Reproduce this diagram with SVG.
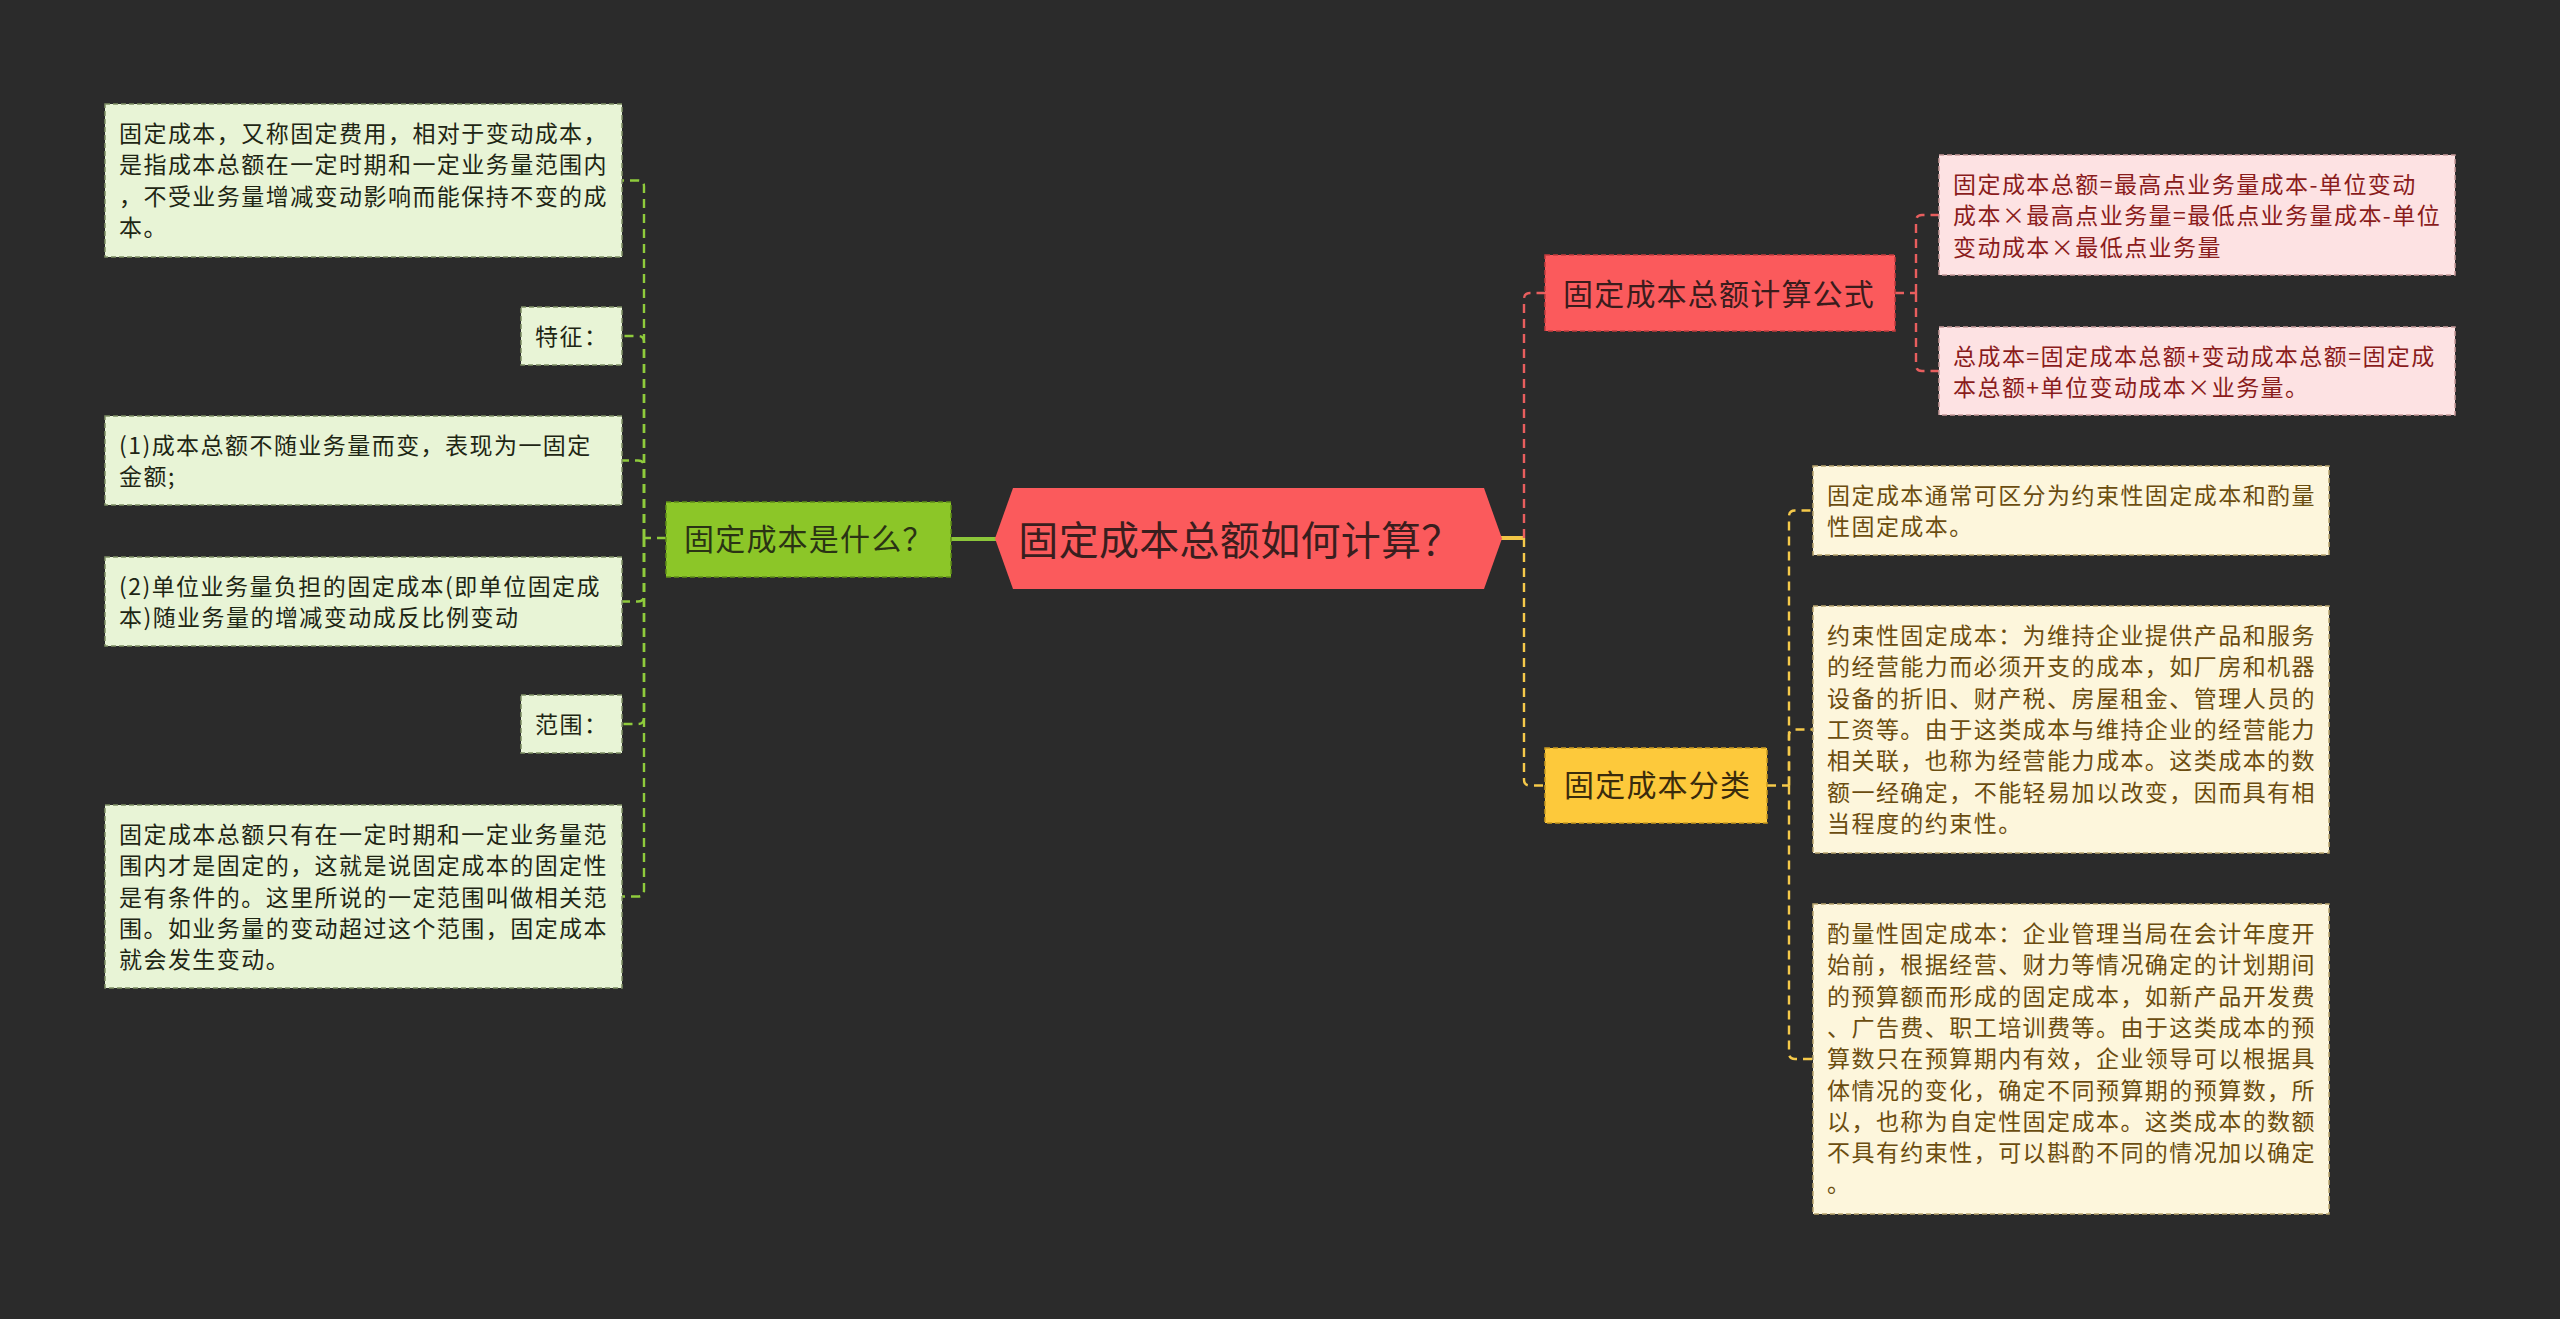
<svg xmlns="http://www.w3.org/2000/svg" width="2560" height="1319" viewBox="0 0 2560 1319">
<style>
text{font-family:"Noto Sans CJK SC","Noto Sans",sans-serif;}
.leaf{font-size:23px;letter-spacing:1.45px;}
.mid{font-size:30px;letter-spacing:1.2px;}
.root{font-size:40px;letter-spacing:0.3px;}
.gbox{fill:#e8f4d6;stroke:#7d8e64;stroke-width:1.5;stroke-dasharray:5 3;}
.gt{fill:#1e2614;}
.rbox{fill:#fde2e3;stroke:#c79a9a;stroke-width:1.5;stroke-dasharray:5 3;}
.rt{fill:#8a1c1c;}
.ybox{fill:#fdf6dc;stroke:#b9a56e;stroke-width:1.5;stroke-dasharray:5 3;}
.yt{fill:#6b4d10;}
.cg{fill:none;stroke:#8fcb3c;stroke-width:2.4;stroke-dasharray:9 6;}
.cr{fill:none;stroke:#e85e5e;stroke-width:2.4;stroke-dasharray:9 6;}
.cy{fill:none;stroke:#f5c94a;stroke-width:2.4;stroke-dasharray:9 6;}
</style>
<rect width="2560" height="1319" fill="#2b2b2b"/>

<g id="connectors">
  <path d="M951,539 H996" fill="none" stroke="#8cc63a" stroke-width="4"/>
  <path d="M1501,538 H1524" fill="none" stroke="#f2c646" stroke-width="4"/>
  <path class="cg" d="M666,538 H644"/>
  <path class="cg" d="M644,538 V186.5 Q644,180.5 638,180.5 H622"/>
  <path class="cg" d="M644,538 V342 Q644,336 638,336 H622"/>
  <path class="cg" d="M644,538 V466.5 Q644,460.5 638,460.5 H622"/>
  <path class="cg" d="M644,538 V595.5 Q644,601.5 638,601.5 H622"/>
  <path class="cg" d="M644,538 V718 Q644,724 638,724 H622"/>
  <path class="cg" d="M644,538 V890.5 Q644,896.5 638,896.5 H622"/>
  <path class="cr" d="M1524,538 V299 Q1524,293 1530,293 H1545"/>
  <path class="cy" d="M1524,538 V779.5 Q1524,785.5 1530,785.5 H1545"/>
  <path class="cr" d="M1895,293 H1916"/>
  <path class="cr" d="M1916,293 V221 Q1916,215 1922,215 H1939"/>
  <path class="cr" d="M1916,293 V365 Q1916,371 1922,371 H1939"/>
  <path class="cy" d="M1767,785.5 H1789"/>
  <path class="cy" d="M1789,785.5 V516.5 Q1789,510.5 1795,510.5 H1813"/>
  <path class="cy" d="M1789,785.5 V735.5 Q1789,729.5 1795,729.5 H1813"/>
  <path class="cy" d="M1789,785.5 V1053 Q1789,1059 1795,1059 H1813"/>
</g>

<g id="root">
  <polygon points="995,538.5 1013,488 1484,488 1502,538.5 1484,589 1013,589" fill="#fb5a5c"/>
  <text class="root" x="1240" y="555" text-anchor="middle" fill="#3a1e1e">固定成本总额如何计算？</text>
</g>

<g id="node-what">
  <rect x="666" y="502" width="285" height="75" fill="#8cc628" stroke="#5f8f18" stroke-width="1.5" stroke-dasharray="5 3"/>
  <text class="mid" x="684" y="550" fill="#2a3314">固定成本是什么？</text>
</g>

<g id="node-formula">
  <rect x="1545" y="255" width="350" height="76" fill="#fb5a5c" stroke="#c43c3e" stroke-width="1.5" stroke-dasharray="5 3"/>
  <text class="mid" x="1563" y="305" fill="#3a1c1c">固定成本总额计算公式</text>
</g>

<g id="node-class">
  <rect x="1545" y="748" width="222" height="75" fill="#fdc93b" stroke="#c99a20" stroke-width="1.5" stroke-dasharray="5 3"/>
  <text class="mid" x="1564" y="796" fill="#3a2b0c">固定成本分类</text>
</g>

<g id="leaf-def">
  <rect class="gbox" x="105" y="104" width="517" height="153"/>
  <text class="leaf gt" x="119" y="142">固定成本，又称固定费用，相对于变动成本，</text>
  <text class="leaf gt" x="119" y="173.3">是指成本总额在一定时期和一定业务量范围内</text>
  <text class="leaf gt" x="119" y="204.6">，不受业务量增减变动影响而能保持不变的成</text>
  <text class="leaf gt" x="119" y="235.9">本。</text>
</g>

<g id="leaf-feature">
  <rect class="gbox" x="521" y="307" width="101" height="58"/>
  <text class="leaf gt" x="535" y="345">特征：</text>
</g>

<g id="leaf-f1">
  <rect class="gbox" x="105" y="416" width="517" height="89"/>
  <text class="leaf gt" x="119" y="454">(1)成本总额不随业务量而变，表现为一固定</text>
  <text class="leaf gt" x="119" y="485.3">金额;</text>
</g>

<g id="leaf-f2">
  <rect class="gbox" x="105" y="557" width="517" height="89"/>
  <text class="leaf gt" x="119" y="595">(2)单位业务量负担的固定成本(即单位固定成</text>
  <text class="leaf gt" x="119" y="626.3">本)随业务量的增减变动成反比例变动</text>
</g>

<g id="leaf-range">
  <rect class="gbox" x="521" y="695" width="101" height="58"/>
  <text class="leaf gt" x="535" y="733">范围：</text>
</g>

<g id="leaf-range-desc">
  <rect class="gbox" x="105" y="805" width="517" height="183"/>
  <text class="leaf gt" x="119" y="843">固定成本总额只有在一定时期和一定业务量范</text>
  <text class="leaf gt" x="119" y="874.3">围内才是固定的，这就是说固定成本的固定性</text>
  <text class="leaf gt" x="119" y="905.6">是有条件的。这里所说的一定范围叫做相关范</text>
  <text class="leaf gt" x="119" y="936.9">围。如业务量的变动超过这个范围，固定成本</text>
  <text class="leaf gt" x="119" y="968.2">就会发生变动。</text>
</g>

<g id="leaf-formula1">
  <rect class="rbox" x="1939" y="155" width="516" height="120"/>
  <text class="leaf rt" x="1953" y="193">固定成本总额=最高点业务量成本-单位变动</text>
  <text class="leaf rt" x="1953" y="224.3">成本×最高点业务量=最低点业务量成本-单位</text>
  <text class="leaf rt" x="1953" y="255.6">变动成本×最低点业务量</text>
</g>

<g id="leaf-formula2">
  <rect class="rbox" x="1939" y="327" width="516" height="88"/>
  <text class="leaf rt" x="1953" y="365">总成本=固定成本总额+变动成本总额=固定成</text>
  <text class="leaf rt" x="1953" y="396.3">本总额+单位变动成本×业务量。</text>
</g>

<g id="leaf-class1">
  <rect class="ybox" x="1813" y="466" width="516" height="89"/>
  <text class="leaf yt" x="1827" y="504">固定成本通常可区分为约束性固定成本和酌量</text>
  <text class="leaf yt" x="1827" y="535.3">性固定成本。</text>
</g>

<g id="leaf-class2">
  <rect class="ybox" x="1813" y="606" width="516" height="247"/>
  <text class="leaf yt" x="1827" y="644">约束性固定成本：为维持企业提供产品和服务</text>
  <text class="leaf yt" x="1827" y="675.3">的经营能力而必须开支的成本，如厂房和机器</text>
  <text class="leaf yt" x="1827" y="706.6">设备的折旧、财产税、房屋租金、管理人员的</text>
  <text class="leaf yt" x="1827" y="737.9">工资等。由于这类成本与维持企业的经营能力</text>
  <text class="leaf yt" x="1827" y="769.2">相关联，也称为经营能力成本。这类成本的数</text>
  <text class="leaf yt" x="1827" y="800.5">额一经确定，不能轻易加以改变，因而具有相</text>
  <text class="leaf yt" x="1827" y="831.8">当程度的约束性。</text>
</g>

<g id="leaf-class3">
  <rect class="ybox" x="1813" y="904" width="516" height="310"/>
  <text class="leaf yt" x="1827" y="942">酌量性固定成本：企业管理当局在会计年度开</text>
  <text class="leaf yt" x="1827" y="973.3">始前，根据经营、财力等情况确定的计划期间</text>
  <text class="leaf yt" x="1827" y="1004.6">的预算额而形成的固定成本，如新产品开发费</text>
  <text class="leaf yt" x="1827" y="1035.9">、广告费、职工培训费等。由于这类成本的预</text>
  <text class="leaf yt" x="1827" y="1067.2">算数只在预算期内有效，企业领导可以根据具</text>
  <text class="leaf yt" x="1827" y="1098.5">体情况的变化，确定不同预算期的预算数，所</text>
  <text class="leaf yt" x="1827" y="1129.8">以，也称为自定性固定成本。这类成本的数额</text>
  <text class="leaf yt" x="1827" y="1161.1">不具有约束性，可以斟酌不同的情况加以确定</text>
  <text class="leaf yt" x="1827" y="1192.4">。</text>
</g>
</svg>
